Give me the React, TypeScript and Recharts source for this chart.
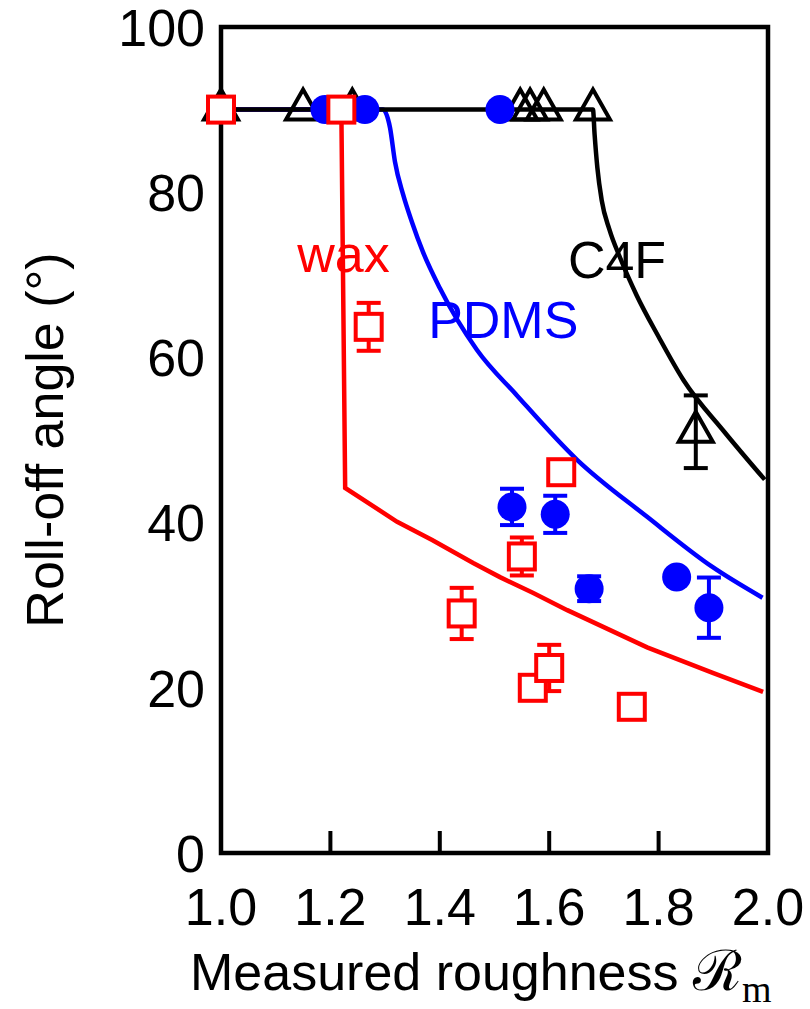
import React from "react";
import {
  ComposedChart,
  Line,
  Scatter,
  XAxis,
  YAxis,
  ErrorBar,
  ReferenceArea,
  ReferenceDot,
} from "recharts";

const xTicks = [1.0, 1.2, 1.4, 1.6, 1.8, 2.0];
const yTicks = [0, 20, 40, 60, 80, 100];
const rightTicks = [20, 40, 60, 80];

// wax (red open squares)
const waxPoints = [
  { x: 1.0, y: 90 },
  { x: 1.22, y: 90 },
  { x: 1.622, y: 46.1 },
  { x: 1.57, y: 20.0 },
  { x: 1.751, y: 17.7 },
];
const waxErrPoints = [
  { x: 1.27, y: 63.7, err: 2.9 },
  { x: 1.44, y: 29.0, err: 3.1 },
  { x: 1.55, y: 35.9, err: 2.3 },
  { x: 1.6, y: 22.4, err: 2.8 },
];

// PDMS (blue filled circles)
const pdmsPoints = [
  { x: 1.19, y: 90 },
  { x: 1.263, y: 90 },
  { x: 1.51, y: 90 },
  { x: 1.833, y: 33.4 },
];
const pdmsErrPoints = [
  { x: 1.532, y: 41.9, err: 2.2 },
  { x: 1.611, y: 41.0, err: 2.25 },
  { x: 1.673, y: 32.0, err: 1.5 },
  { x: 1.892, y: 29.7, err: 3.65 },
];

// C4F (black open triangles)
const c4fPoints = [
  { x: 1.0, y: 90 },
  { x: 1.15, y: 90 },
  { x: 1.24, y: 90 },
  { x: 1.547, y: 90 },
  { x: 1.565, y: 90 },
  { x: 1.59, y: 90 },
  { x: 1.68, y: 90 },
];
const c4fErrPoints = [{ x: 1.868, y: 51, err: 4.4 }];

// model curves
const waxCurve = [
  { x: 1.0, y: 90 },
  { x: 1.22, y: 90 },
  { x: 1.227, y: 44.2 },
  { x: 1.322, y: 40.1 },
  { x: 1.386, y: 37.9 },
  { x: 1.461, y: 35.1 },
  { x: 1.51, y: 33.4 },
  { x: 1.57, y: 31.5 },
  { x: 1.633, y: 29.4 },
  { x: 1.779, y: 24.9 },
  { x: 1.899, y: 21.8 },
  { x: 1.991, y: 19.5 },
];
const pdmsCurve = [
  { x: 1.0, y: 90 },
  { x: 1.296, y: 90 },
  { x: 1.309, y: 87.8 },
  { x: 1.318, y: 83.7 },
  { x: 1.333, y: 79.7 },
  { x: 1.349, y: 76.4 },
  { x: 1.369, y: 72.8 },
  { x: 1.4, y: 68.4 },
  { x: 1.468, y: 60.9 },
  { x: 1.541, y: 55.4 },
  { x: 1.651, y: 47.6 },
  { x: 1.779, y: 40.7 },
  { x: 1.899, y: 34.6 },
  { x: 1.99, y: 30.9 },
];
const c4fCurve = [
  { x: 1.0, y: 90 },
  { x: 1.68, y: 90 },
  { x: 1.683, y: 87 },
  { x: 1.688, y: 83 },
  { x: 1.696, y: 79 },
  { x: 1.71, y: 75.5 },
  { x: 1.73, y: 72 },
  { x: 1.76, y: 67.5 },
  { x: 1.8, y: 62.5 },
  { x: 1.845, y: 57.3 },
  { x: 1.92, y: 51 },
  { x: 1.994, y: 45.2 },
];

const curveLabels = [
  { text: "wax", x: 1.224, y: 70.3, color: "#ff0000" },
  { text: "PDMS", x: 1.516, y: 62.3, color: "#0000ff" },
  { text: "C4F", x: 1.724, y: 69.6, color: "#000000" },
];

const RED = "#ff0000";
const BLUE = "#0000ff";
const FONT = "'Liberation Sans', Arial, sans-serif";
const FS = 52;
const LW = 4.5;

const Square = (p: any) => (
  <rect x={p.cx - 13} y={p.cy - 13} width={26} height={26} fill="#fff" stroke={RED} strokeWidth={4} />
);
const Dot = (p: any) => <circle cx={p.cx} cy={p.cy} r={14.5} fill={BLUE} />;
const Tri = (p: any) => (
  <path
    d={`M${p.cx},${p.cy - 20} L${p.cx + 17},${p.cy + 10} L${p.cx - 17},${p.cy + 10} Z`}
    fill="none"
    stroke="#000"
    strokeWidth={4}
    strokeLinejoin="miter"
  />
);

const BottomTick = (p: any) => (
  <g>
    <line x1={p.x} y1={p.y} x2={p.x} y2={p.y - 22} stroke="#000" strokeWidth={4} />
    <text x={p.x} y={p.y + 72} textAnchor="middle" fontSize={FS} fontFamily={FONT} fill="#000">
      {Number(p.payload.value).toFixed(1)}
    </text>
  </g>
);
const LeftTick = (p: any) => (
  <text x={p.x - 16} y={p.y} dy="0.36em" textAnchor="end" fontSize={FS} fontFamily={FONT} fill="#000">
    {p.payload.value}
  </text>
);
const RightTick = (p: any) => (
  <line x1={p.x} y1={p.y} x2={p.x - 26} y2={p.y} stroke="#000" strokeWidth={4} />
);

export default function App() {
  return (
    <div style={{ position: "absolute", left: 0, top: 0, background: "#fff" }}>
      <ComposedChart width={810} height={1009} margin={{ top: 27, right: 0, bottom: 0, left: 0 }}>
        <XAxis
          dataKey="x"
          type="number"
          domain={[1, 2]}
          ticks={xTicks}
          height={156}
          axisLine={false}
          tickLine={false}
          tickSize={0}
          tickMargin={0}
          tick={<BottomTick />}
          interval={0}
          label={{
            content: ({ viewBox }: any) => (
              <text x={viewBox.x - 31} y={viewBox.y + 137} fontSize={FS} fontFamily={FONT} fill="#000">
                Measured roughness{" "}
                <tspan fontFamily="'DejaVu Serif', 'Liberation Serif', serif" fontSize={56}>
                  ℛ
                </tspan>
                <tspan fontFamily="'Liberation Serif', serif" fontSize={38} dy={12}>
                  m
                </tspan>
              </text>
            ),
          }}
        />
        <YAxis
          dataKey="y"
          type="number"
          domain={[0, 100]}
          ticks={yTicks}
          width={221}
          axisLine={false}
          tickLine={false}
          tickSize={0}
          tickMargin={0}
          tick={<LeftTick />}
          interval={0}
          label={{
            content: () => (
              <text
                x={63}
                y={440}
                transform="rotate(-90, 63, 440)"
                textAnchor="middle"
                fontSize={FS}
                fontFamily={FONT}
                fill="#000"
              >
                Roll-off angle (°)
              </text>
            ),
          }}
        />
        <YAxis
          yAxisId="right"
          orientation="right"
          type="number"
          domain={[0, 100]}
          ticks={rightTicks}
          width={42}
          axisLine={false}
          tickLine={false}
          tickSize={0}
          tickMargin={0}
          tick={<RightTick />}
          interval={0}
        />
        <ReferenceArea x1={1} x2={2} y1={0} y2={100} fill="none" stroke="#000" strokeWidth={4.5} />

        <Line data={waxCurve} dataKey="y" type="linear" stroke={RED} strokeWidth={LW} dot={false} isAnimationActive={false} />
        <Line data={pdmsCurve} dataKey="y" type="monotone" stroke={BLUE} strokeWidth={LW} dot={false} isAnimationActive={false} />

        <Scatter data={c4fPoints} dataKey="y" shape={Tri} isAnimationActive={false} />
        <Scatter data={c4fErrPoints} dataKey="y" shape={Tri} isAnimationActive={false}>
          <ErrorBar dataKey="err" direction="y" width={12} stroke="#000" strokeWidth={4} />
        </Scatter>
        <Scatter data={pdmsPoints} dataKey="y" shape={Dot} isAnimationActive={false} />
        <Scatter data={pdmsErrPoints} dataKey="y" shape={Dot} isAnimationActive={false}>
          <ErrorBar dataKey="err" direction="y" width={12} stroke={BLUE} strokeWidth={4} />
        </Scatter>
        <Scatter data={waxPoints} dataKey="y" shape={Square} isAnimationActive={false} />
        <Scatter data={waxErrPoints} dataKey="y" shape={Square} isAnimationActive={false}>
          <ErrorBar dataKey="err" direction="y" width={12} stroke={RED} strokeWidth={4} />
        </Scatter>

        <Line data={c4fCurve} dataKey="y" type="monotone" stroke="#000" strokeWidth={LW} dot={false} isAnimationActive={false} />

        {curveLabels.map((l) => (
          <ReferenceDot
            key={l.text}
            x={l.x}
            y={l.y}
            r={0}
            shape={(p: any) => (
              <text x={p.cx} y={p.cy} textAnchor="middle" fontSize={FS} fontFamily={FONT} fill={l.color}>
                {l.text}
              </text>
            )}
          />
        ))}
      </ComposedChart>
    </div>
  );
}
